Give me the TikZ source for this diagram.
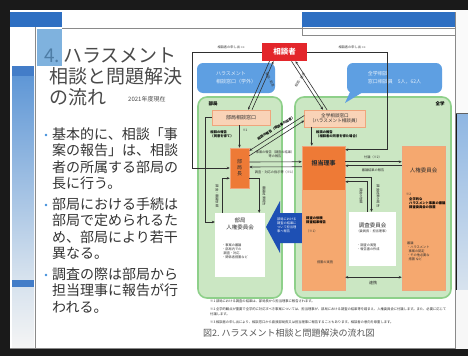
\documentclass[tikz,border=0pt]{standalone}
\usepackage{fontspec}
\setmainfont{Noto Sans CJK JP}
\usetikzlibrary{arrows.meta,calc}
\definecolor{frameK}{HTML}{1A1A1A}
\definecolor{slideB}{HTML}{2E6FC2}
\definecolor{lightB}{HTML}{7FB2DE}
\definecolor{sideT}{HTML}{5F97D6}
\definecolor{sideBt}{HTML}{D8E3EE}
\definecolor{titleG}{HTML}{4A4A4A}
\definecolor{titleN}{HTML}{4E7DA6}
\definecolor{bodyG}{HTML}{333333}
\definecolor{bulB}{HTML}{3E8EDB}
\definecolor{pgreen}{HTML}{CBE7C3}
\definecolor{pgreenD}{HTML}{8ED08A}
\definecolor{redC}{HTML}{E3262B}
\definecolor{callC}{HTML}{5E9FE2}
\definecolor{peachC}{HTML}{F9D3B7}
\definecolor{peachD}{HTML}{EFA57C}
\definecolor{orangeD}{HTML}{EE7A36}
\definecolor{orangeL}{HTML}{F5A86F}
\definecolor{arrowB}{HTML}{1E50B4}
\definecolor{lineC}{HTML}{2F2F2F}
\definecolor{capG}{HTML}{555555}
\definecolor{edgeG}{HTML}{8A8A8A}
\tikzset{
  titlef/.style={font=\fontsize{19}{21}\selectfont, text=titleG, inner sep=0, anchor=base west},
  bultxt/.style={font=\fontsize{14}{16.4}\selectfont, text=bodyG, inner sep=0, anchor=north west, align=left},
  buldot/.style={circle, fill=bulB, minimum size=2.6pt, inner sep=0},
  panel/.style={draw=pgreenD, fill=pgreen, line width=1.6pt, rounded corners=9pt, inner sep=0},
  peachbox/.style={draw=peachD, fill=peachC, line width=0.5pt, inner sep=0, align=center, text=lineC, font=\fontsize{5}{5.6}\selectfont},
  obox/.style={draw=peachD, line width=0.5pt, inner sep=0},
  wbox/.style={fill=white, inner sep=0},
  callout/.style={fill=callC, rounded corners=6pt, inner sep=0, align=left, text=white!85!callC, font=\fontsize{5}{8}\selectfont},
  conn/.style={draw=lineC, line width=0.6pt},
  arr/.style={conn, -{Stealth[length=3pt,width=2.6pt]}},
  tiny/.style={font=\fontsize{3.2}{3.9}\selectfont, text=lineC, inner sep=0},
  tinyb/.style={font=\bfseries\fontsize{3.3}{4}\selectfont, text=black, inner sep=0},
  mid/.style={font=\fontsize{5.5}{6.5}\selectfont, text=lineC, inner sep=0, align=center},
  foot/.style={font=\fontsize{3.3}{4}\selectfont, text=lineC, inner sep=0, anchor=base west},
}
\begin{document}
\begin{tikzpicture}[x=1pt,y=-1pt]
\useasboundingbox (0,0) rectangle (468,356);
% ---- photo frame and slide background ----
\fill[frameK] (0,0) rectangle (468,356);
\fill[white] (10,10) rectangle (456,349);
\fill[white!96!gray] (456,10) rectangle (468,113);
\shade[top color=sideT!70, bottom color=sideBt] (457,114) rectangle (468,290);
\fill[white!94!gray] (456,290) rectangle (468,349);
\draw[edgeG!70!black, line width=0.8pt] (456,113) -- (468,113);
% top bands
\fill[slideB] (10,12) rectangle (62,27);
\fill[slideB] (302,12) rectangle (455,27);
\draw[edgeG, line width=0.6pt] (302,27) -- (302,35) -- (455,35);
\draw[edgeG, line width=0.8pt] (62,28) -- (455,28);
% left strip
\fill[slideB!90] (12,66) rectangle (34,76);
\shade[top color=sideT, bottom color=sideBt] (12,76) rectangle (34,280);
\fill[slideB!90] (12,280) rectangle (34,287);
\shade[top color=sideBt, bottom color=white!92!gray] (12,287) rectangle (34,348);
\fill[lightB] (37,29) rectangle (62,66);
\draw[edgeG, line width=1pt] (35,27) -- (35,349);
\draw[edgeG, line width=1pt] (455,12) -- (455,349);
\draw[edgeG, line width=1pt] (10,348) -- (456,348);
% ---- title ----
\node[titlef] (t1) at (44,62) {\textcolor{titleN}{4.}\,ハラスメント};
\node[titlef] (t2) at (49,83) {相談と問題解決};
\node[titlef] (t3) at (49,104) {の流れ};
\node[inner sep=0, anchor=base west, font=\fontsize{6}{7}\selectfont, text=titleG] (t4) at (128,101) {2021年度現在};
% ---- bullets ----
\node[buldot] (d1) at (46,135) {};
\node[bultxt] (p1) at (52,127.5) {基本的に、相談「事\\案の報告」は、相談\\者の所属する部局の\\長に行う。};
\node[buldot] (d2) at (46,205) {};
\node[bultxt] (p2) at (52,197.5) {部局における手続は\\部局で定められるた\\め、部局により若干\\異なる。};
\node[buldot] (d3) at (46,275) {};
\node[bultxt] (p3) at (52,267.5) {調査の際は部局から\\担当理事に報告が行\\われる。};
% ---- diagram: panels ----
\node[panel, minimum width=84pt, minimum height=201pt] (pbk) at (240,197.5) {};
\node[panel, minimum width=156pt, minimum height=201pt] (pzg) at (373,197.5) {};
\node[tinyb, font=\bfseries\fontsize{4.5}{5}\selectfont] (pbkl) at (213,104) {部局};
\node[tinyb, font=\bfseries\fontsize{4.5}{5}\selectfont] (pzgl) at (440,104) {全学};
% callouts
\node[callout, minimum width=78pt, minimum height=30pt] (callL) at (236,78) {ハラスメント\\相談窓口（学外）};
\node[callout, minimum width=95pt, minimum height=30pt] (callR) at (394.5,78) {全学相談\\窓口相談員\quad 5人，62人};
\fill[callC] (350,92) -- (363,92) -- (345,103) -- cycle;
% boxes
\node[fill=redC, minimum width=45pt, minimum height=18pt, inner sep=0, text=white, font=\bfseries\fontsize{7.5}{8}\selectfont] (sodan) at (284.5,52) {相談者};
\node[peachbox, minimum width=58pt, minimum height=15pt] (bkmado) at (241,117.5) {部局相談窓口};
\node[peachbox, minimum width=61pt, minimum height=17pt, font=\fontsize{4.6}{5.4}\selectfont] (zgmado) at (335,118.5) {全学相談窓口\\（ハラスメント相談員）};
\node[obox, fill=orangeD, minimum width=19pt, minimum height=40pt, align=center, font=\fontsize{5}{6}\selectfont, text=lineC] (bkcho) at (239.5,168) {部\\局\\長};
\node[obox, fill=orangeL, minimum width=43pt, minimum height=144pt] (riji) at (323.5,218) {};
\fill[orangeD] (riji.north west) rectangle ($(riji.north east)+(0,44)$);
\draw[peachD, line width=0.5pt] (riji.north west) rectangle (riji.south east);
\node[font=\bfseries\fontsize{6}{7}\selectfont, text=lineC, inner sep=0] (rijil) at (323.5,163) {担当理事};
\node[obox, fill=orangeL, minimum width=43pt, minimum height=144pt] (jinken) at (423.5,218) {};
\node[mid, font=\fontsize{5.5}{6}\selectfont] (jinkenl) at (423.5,170) {人権委員会};
\node[wbox, minimum width=50pt, minimum height=64pt] (bkjinken) at (240,245) {};
\node[mid] (bkjinkenl) at (240,224) {部局\\人権委員会};
\node[wbox, minimum width=47pt, minimum height=54pt] (chosa) at (372.5,239) {};
\node[mid] (chosal) at (372.5,225) {調査委員会};
% texts inside boxes
\node[tiny, align=left, anchor=north west] (bkjt) at (222,244) {・事案の審議\\・部局内での\\\ \ 調査・対応\\・関係者措置など};
\node[tiny, anchor=center] (chosat) at (372.5,231) {（委員長：担当理事）};
\node[tiny, align=left, anchor=north west] (chosab) at (357,244) {・調査の実施\\・報告書の作成};
\node[tinyb, align=left, anchor=north west] (rijit) at (306,216) {調査の依頼\\調査結果報告};
\node[tiny, anchor=north west] (rijit2) at (306,230) {（※1）};
\node[tiny] (rijit3) at (325,262) {措置の実施};
\node[tiny, anchor=north west] (jk1) at (406,193) {※2};
\node[tinyb, align=left, anchor=north west] (jk2) at (409,197) {全学的な\\ハラスメント事案の審議\\調査委員会の設置};
\node[tiny, align=left, anchor=north west] (jk3) at (407,242) {審議\\・ハラスメント\\\ \ 事案の認定\\・その他必要な\\\ \ 措置 など};
% blue arrow
\fill[arrowB] (riji.west |- 0,213) -- (280,213) -- (280,201) -- (266,227) -- (280,253) -- (280,243) -- (riji.west |- 0,243) -- cycle;
\node[tiny, text=white, align=left, anchor=north west] (arrt) at (277,218) {部局における\\調査の結果に\\ついて担当理\\事へ報告};
% ---- connectors ----
\draw[arr] (sodan.west) -| ($(bkcho.west)+(-37,0)$) -- (bkcho.west);
\draw[arr] (bkmado.west) -| ($(bkjinken.west)+(-10,-23)$) -- ($(bkjinken.west)+(0,-23)$);
\draw[arr] (sodan.east) -| ($(riji.north east)+(42,4)$) -- ($(riji.north east)+(0,4)$);
\node[tiny] (l1) at (231,47) {相談者の申し出\,{\fontsize{2.5}{3}\selectfont ※3}};
\node[tiny] (l2) at (352,47) {相談者の申し出\,{\fontsize{2.5}{3}\selectfont ※3}};
% sodan -> madoguchi (double lines)
\draw[arr] ($(sodan.south)+(-15,0)$) -- ($(bkmado.north)+(7,0)$);
\draw[arr] ($(bkmado.north)+(11,0)$) -- ($(sodan.south)+(-11,0)$);
\draw[arr] ($(sodan.south)+(7,0)$) -- ($(zgmado.north)+(-12,0)$);
\draw[arr] ($(zgmado.north)+(-8,0)$) -- ($(sodan.south)+(11,0)$);
\node[tiny, rotate=-64] (l3) at (270,80) {相談・助言};
\node[tiny, rotate=57] (l4) at (300,80) {相談・助言};
% zenkaku madoguchi -> bukyokucho diagonal
\draw[arr] ($(zgmado.west)+(0,-3)$) -- ($(bkcho.north east)+(0,3)$);
\draw[arr] ($(bkcho.north east)+(0,8)$) -- ($(zgmado.west)+(0,2)$);
\node[tinyb, rotate=31] (l5) at (276,128) {相談の報告（相談者の同意）};
% vertical short arrows
\draw[arr] (bkcho.north |- bkmado.south) -- (bkcho.north);
\node[tinyb, align=left] (l6) at (222,134) {相談の報告\\（同意を得て）};
\node[tiny] (l6b) at (245,130) {※1};
\draw[arr] ($(riji.north west)+(10,-19)$) -- ($(riji.north west)+(10,0)$);
\node[tinyb, align=left, anchor=west] (l7) at (316,134) {相談の報告\\（相談者の同意を得た場合）};
% bukyokucho <-> riji
\draw[arr] ($(bkcho.east)+(0,-6)$) -- ($(riji.north west)+(0,16)$);
\draw[arr] ($(riji.north west)+(0,21)$) -- ($(bkcho.east)+(0,-1)$);
\node[tiny, align=center] (l8) at (275,154) {事案の報告（調査の結果）\\等の報告};
\node[tiny] (l9) at (275,172) {調査・対応の指示等（※1）};
% riji -> jinken
\draw[arr] ($(riji.north east)+(0,16)$) -- ($(jinken.north west)+(0,16)$);
\draw[arr] ($(jinken.north west)+(0,20)$) -- ($(riji.north east)+(0,20)$);
\node[tiny] (l10) at (373,157) {付議（※2）};
\node[tiny] (l11) at (373,170) {審議結果の報告};
% riji -> chosa
\draw[arr] ($(riji.north east)+(0,32)$) -| ($(chosa.north)+(-1,0)$);
\draw[arr] ($(chosa.north)+(-5,0)$) |- ($(riji.north east)+(0,36)$);
\node[tiny, rotate=-90] (l12) at (361,196) {調査の依頼};
\node[tiny, rotate=-90] (l13) at (378,196) {調査結果の報告};
% bukyokucho <-> bukyoku jinken
\draw[arr] ($(bkcho.south east)+(0,-10)$) -| ($(bkjinken.north east)+(-6,0)$);
\draw[arr] ($(bkjinken.north west)+(7,0)$) |- ($(bkcho.south west)+(0,-10)$);
\node[tiny, rotate=-90] (l14) at (217,196) {調査・審議依頼};
\node[tiny, rotate=-90] (l15) at (264,196) {審議結果報告};
% renkei
\draw[conn, {Stealth[length=3pt,width=2.6pt]}-{Stealth[length=3pt,width=2.6pt]}] ($(riji.south east)+(0,-13)$) -- ($(jinken.south west)+(0,-13)$);
\node[tiny, font=\fontsize{4}{5}\selectfont] (l16) at (373,283) {連携};
% footnotes
\node[foot] (f1) at (210,302) {※1\ 部局における調査の結果は、部局長から担当理事に報告されます。};
\node[foot] (f2) at (210,310) {※2\ 全学的観点が重要で全学的に対応すべき事案については、担当理事が、部局における調査の結果等を踏まえ、人権委員会に付議します。また、必要に応じて};
\node[foot] (f3) at (210,315) {付議します。};
\node[foot] (f4) at (210,323) {※3\ 相談者の申し出により、相談窓口から直接部局長又は担当理事に報告することもあります。相談者の意向を尊重します。};
\node[inner sep=0, anchor=base west, font=\fontsize{9}{10}\selectfont, text=capG] (cap) at (203,336.5) {図2.\ ハラスメント相談と問題解決の流れ図};
\end{tikzpicture}
\end{document}
